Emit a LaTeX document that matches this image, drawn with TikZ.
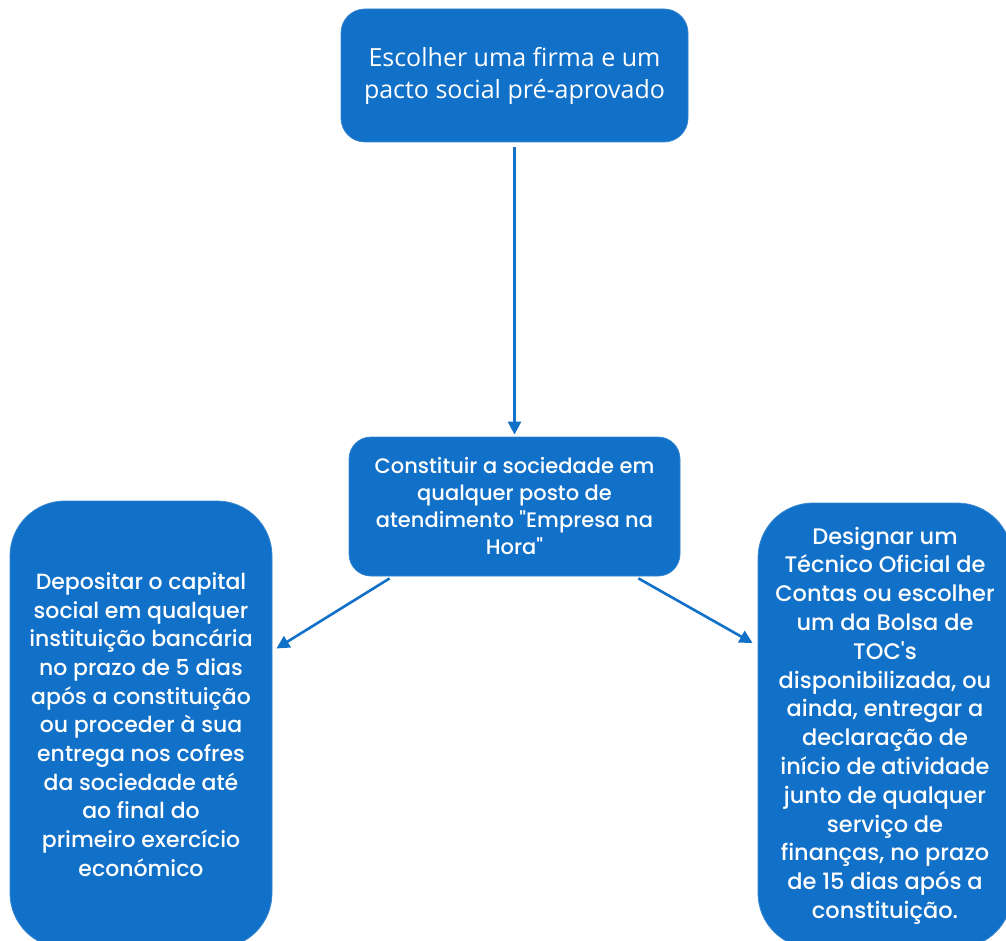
\documentclass[tikz,border=0pt]{standalone}
\usepackage{fontspec}
\setmainfont{Poppins}[BoldFont={Poppins Medium},Ligatures=TeXOff]
\newfontfamily\topfont{Open Sans}
\usetikzlibrary{arrows.meta}
\definecolor{boxblue}{RGB}{17,112,200}
\tikzset{
  box/.style={draw=boxblue!85!white, line width=0.8pt, fill=boxblue, text=white, align=center, inner sep=0pt},
  conn/.style={draw=boxblue, line width=2.6pt, -{Triangle[length=13pt,width=13pt]}}
}
\begin{document}
\begin{tikzpicture}[x=1pt,y=-1pt]
\useasboundingbox (0,0) rectangle (1006,941);
\node[box, rounded corners=24pt, minimum width=347pt, minimum height=133pt, font=\topfont\fontsize{25}{32}\selectfont] (top) at (514.5,75.5)
  {Escolher uma firma e um\\pacto social pré-aprovado};
\node[box, rounded corners=22pt, minimum width=331pt, minimum height=139pt, font=\bfseries\fontsize{21}{27}\selectfont] (mid) at (514.5,506.5)
  {Constituir a sociedade em\\qualquer posto de\\atendimento "Empresa na\\Hora"};
\node[box, rounded corners=55pt, minimum width=262pt, minimum height=447pt, font=\bfseries\fontsize{22}{28.7}\selectfont] (left) at (141,724.5)
  {Depositar o capital\\social em qualquer\\instituição bancária\\no prazo de 5 dias\\após a constituição\\ou proceder à sua\\entrega nos cofres\\da sociedade até\\ao final do\\primeiro exercício\\económico};
\node[box, rounded corners=55pt, minimum width=254pt, minimum height=445pt, font=\bfseries\fontsize{22.5}{28.8}\selectfont] (right) at (885,725.5)
  {Designar um\\Técnico Oficial de\\Contas ou escolher\\um da Bolsa de\\TOC's\\disponibilizada, ou\\ainda, entregar a\\declaração de\\início de atividade\\junto de qualquer\\serviço de\\finanças, no prazo\\de 15 dias após a\\constituição.};
\draw[conn, shorten <=5pt, shorten >=2pt] (top.south) -- (mid.north);
\draw[conn] ([shift={(41,2)}]mid.south west) -- ([shift={(4,-76)}]left.east);
\draw[conn] ([shift={(-42,2)}]mid.south east) -- ([shift={(-5,-82.5)}]right.west);
\end{tikzpicture}
\end{document}
